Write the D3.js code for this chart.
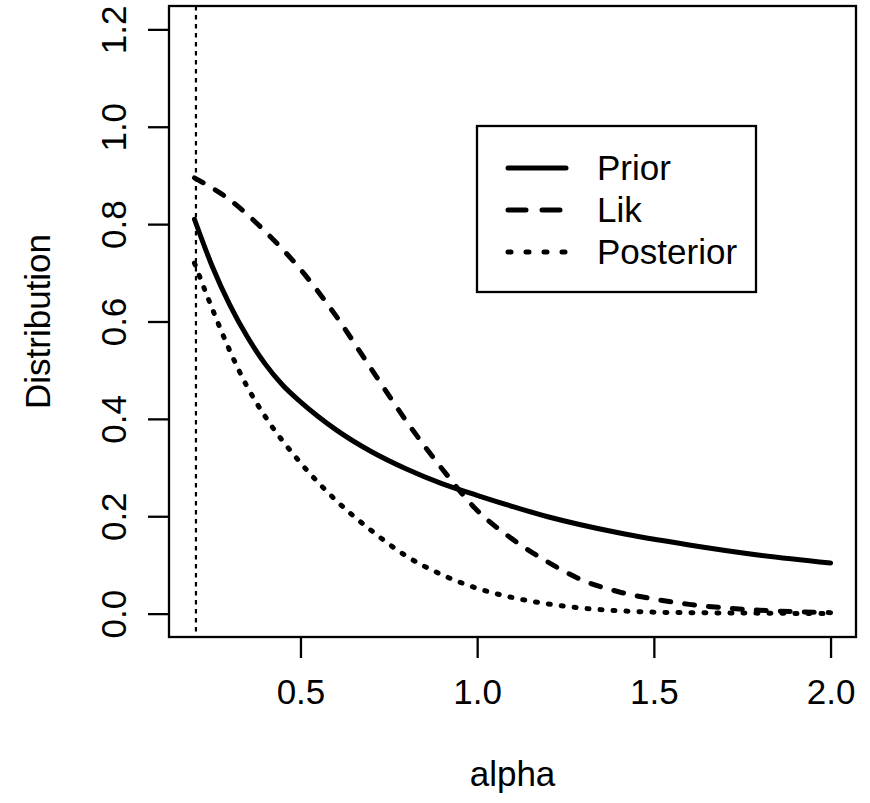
<!DOCTYPE html>
<html>
<head>
<meta charset="utf-8">
<script src="https://cdn.jsdelivr.net/npm/d3@7"></script>
<style>
  body { margin: 0; background: #fff; }
  text { font-family: "Liberation Sans", Arial, sans-serif; fill: #000; }
</style>
</head>
<body>
<svg id="chart"></svg>
<script>
// values
var alphaPrior = [0.2, 0.25, 0.3, 0.35, 0.4, 0.45, 0.5, 0.55, 0.6, 0.7, 0.8, 0.9, 1.0, 1.2, 1.4, 1.6, 1.8, 2.0]
var prior      = [0.81, 0.714, 0.634, 0.568, 0.513, 0.469, 0.435, 0.405, 0.378, 0.333, 0.297, 0.267, 0.243, 0.199, 0.166, 0.141, 0.12, 0.104]

var alphaLik = [0.2, 0.3, 0.4, 0.5, 0.6, 0.7, 0.8, 0.9, 1.0, 1.1, 1.2, 1.3, 1.4, 1.5, 1.6, 1.7, 1.8, 1.9, 2.0]
var lik      = [0.895, 0.85, 0.785, 0.707, 0.612, 0.503, 0.395, 0.298, 0.212, 0.153, 0.106, 0.068, 0.045, 0.03, 0.019, 0.012, 0.007, 0.004, 0.002]

var alphaPost = [0.2, 0.25, 0.3, 0.35, 0.4, 0.5, 0.6, 0.7, 0.8, 0.9, 1.0, 1.1, 1.2, 1.3, 1.4, 1.5, 1.6, 1.8, 2.0]
var posterior = [0.72, 0.627, 0.54, 0.465, 0.405, 0.31, 0.233, 0.171, 0.118, 0.08, 0.052, 0.033, 0.02, 0.011, 0.006, 0.003, 0.002, 0.001, 0.0]

var xTicks = [0.5, 1.0, 1.5, 2.0]
var yTicks = [0.0, 0.2, 0.4, 0.6, 0.8, 1.0, 1.2]
var alphaMin = 0.2

var legendNames = ["Prior", "Lik", "Posterior"]

var dimensions = {
    width: 870,
    height: 803,
    left: 169,
    right: 856,
    top: 6,
    bottom: 637
}
var fontSize = "35px"

var svg = d3.select("#chart")
    .attr("width", dimensions.width)
    .attr("height", dimensions.height)

// R style 4% padding on both axes
var xScale = d3.scaleLinear()
    .domain([0.128, 2.072])
    .range([dimensions.left, dimensions.right])

var yScale = d3.scaleLinear()
    .domain([-0.048, 1.248])
    .range([dimensions.bottom, dimensions.top])

var line = d3.line()
    .x(d => xScale(d[0]))
    .y(d => yScale(d[1]))
    .curve(d3.curveMonotoneX)

var series = [
    {name: "Prior", xs: alphaPrior, ys: prior, dash: null},
    {name: "Lik", xs: alphaLik, ys: lik, dash: "10,14"},
    {name: "Posterior", xs: alphaPost, ys: posterior, dash: "2,11"}
]

// vertical dotted line at the lower bound
svg.append("line")
    .attr("x1", xScale(alphaMin) + 1.5).attr("x2", xScale(alphaMin) + 1.5)
    .attr("y1", dimensions.top).attr("y2", dimensions.bottom)
    .attr("stroke", "black")
    .attr("stroke-width", 2.2)
    .attr("stroke-dasharray", "4.5,4.5")

series.forEach(function (s) {
    svg.append("path")
        .datum(s.xs.map((x, i) => [x, s.ys[i]]))
        .attr("d", line)
        .attr("fill", "none")
        .attr("stroke", "black")
        .attr("stroke-width", 5)
        .attr("stroke-linecap", "round")
        .attr("stroke-linejoin", "round")
        .attr("stroke-dasharray", s.dash)
})

// plot box
svg.append("rect")
    .attr("x", dimensions.left).attr("y", dimensions.top)
    .attr("width", dimensions.right - dimensions.left)
    .attr("height", dimensions.bottom - dimensions.top)
    .attr("fill", "none")
    .attr("stroke", "black")
    .attr("stroke-width", 2.3)

var xAxisgen = d3.axisBottom(xScale).tickValues(xTicks).tickFormat(d3.format(".1f")).tickSize(21).tickPadding(0)
var yAxisgen = d3.axisLeft(yScale).tickValues(yTicks).tickFormat(d3.format(".1f")).tickSize(21).tickPadding(0)

var xAxis = svg.append("g")
    .attr("transform", `translate(0,${dimensions.bottom})`)
    .call(xAxisgen)
xAxis.select(".domain").remove()
xAxis.selectAll("line").attr("stroke-width", 2.3)
xAxis.selectAll("text")
    .attr("y", 67).attr("dy", null)
    .style("font-size", fontSize)
    .style("font-family", "'Liberation Sans', Arial, sans-serif")

var yAxis = svg.append("g")
    .attr("transform", `translate(${dimensions.left},0)`)
    .call(yAxisgen)
yAxis.select(".domain").remove()
yAxis.selectAll("line").attr("stroke-width", 2.3)
yAxis.selectAll("text")
    .attr("x", null).attr("dy", null)
    .attr("text-anchor", "middle")
    .attr("transform", "translate(-43,0) rotate(-90)")
    .style("font-size", fontSize)
    .style("font-family", "'Liberation Sans', Arial, sans-serif")

// axis titles
svg.append("text")
    .attr("x", xScale(1.1)).attr("y", 786)
    .attr("text-anchor", "middle")
    .style("font-size", fontSize)
    .text("alpha")

svg.append("text")
    .attr("transform", `translate(50,${(dimensions.top + dimensions.bottom) / 2}) rotate(-90)`)
    .attr("text-anchor", "middle")
    .style("font-size", fontSize)
    .text("Distribution")

// legend
var legend = svg.append("g")
legend.append("rect")
    .attr("x", 477).attr("y", 126)
    .attr("width", 279).attr("height", 166)
    .attr("fill", "white")
    .attr("stroke", "black")
    .attr("stroke-width", 2.3)

var legendDash = [null, "18,16", "3,15"]
legendNames.forEach(function (name, i) {
    var y = 168 + i * 42
    legend.append("line")
        .attr("x1", 508).attr("x2", 566)
        .attr("y1", y).attr("y2", y)
        .attr("stroke", "black")
        .attr("stroke-width", 5)
        .attr("stroke-linecap", "round")
        .attr("stroke-dasharray", legendDash[i])
    legend.append("text")
        .attr("x", 597).attr("y", y + 12)
        .style("font-size", fontSize)
        .text(name)
})
</script>
</body>
</html>
